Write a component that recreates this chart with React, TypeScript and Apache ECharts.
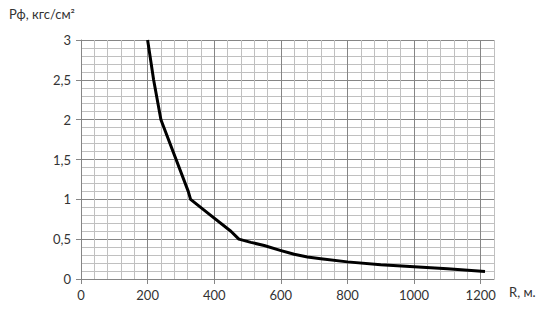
import React, { useEffect, useRef } from "react";
import * as echarts from "echarts";

const rValues = [200, 218, 240, 322, 329, 380, 450, 474, 510, 550, 598, 640, 680, 720, 800, 900, 1000, 1100, 1213];
const pValues = [3, 2.5, 2, 1.1, 1.0, 0.83, 0.6, 0.5, 0.46, 0.42, 0.36, 0.31, 0.277, 0.255, 0.215, 0.18, 0.155, 0.13, 0.095];
const xTickLabels = [0, 200, 400, 600, 800, 1000, 1200];
const yTickLabels = [0, 0.5, 1, 1.5, 2, 2.5, 3];
const yName = "Рф, кгс/см²";
const xName = "R, м.";

const FONT = "Lato";
const TEXT = "#333333";
const MAJOR = "#868686";
const MINOR = "#c0c0c0";

export default function App() {
  const ref = useRef<HTMLDivElement>(null);
  useEffect(() => {
    if (!ref.current) return;
    const chart = echarts.init(ref.current, undefined, { renderer: "svg" });
    chart.setOption({
      animation: false,
      backgroundColor: "#ffffff",
      textStyle: { fontFamily: FONT },
      grid: { left: 81, right: 53, top: 40, bottom: 34 },
      xAxis: [
        {
          type: "value",
          min: 0,
          max: 1240,
          interval: 40,
          position: "bottom",
          axisLine: { show: false },
          axisTick: { show: false },
          axisLabel: { show: false },
          splitLine: { show: true, lineStyle: { color: MINOR, width: 1 } },
        },
        {
          type: "value",
          min: 0,
          max: 1240,
          interval: 200,
          position: "bottom",
          axisLine: { show: true, onZero: false, lineStyle: { color: MAJOR, width: 1 } },
          axisTick: { show: true, length: 5, customValues: xTickLabels, lineStyle: { color: MAJOR } },
          axisLabel: {
            show: true,
            customValues: xTickLabels,
            color: TEXT,
            fontFamily: FONT,
            fontSize: 13,
            margin: 9,
            formatter: (v: number) => String(v),
          },
          splitLine: { show: true, lineStyle: { color: MAJOR, width: 1 } },
        },
      ],
      yAxis: {
        type: "value",
        min: 0,
        max: 3,
        interval: 0.5,
        axisLine: { show: true, lineStyle: { color: MAJOR, width: 1 } },
        axisTick: { show: true, length: 5, customValues: yTickLabels, lineStyle: { color: MAJOR } },
        axisLabel: {
          customValues: yTickLabels,
          color: TEXT,
          fontFamily: FONT,
          fontSize: 13,
          margin: 10,
          formatter: (v: number) => String(v).replace(".", ","),
        },
        splitLine: { show: true, lineStyle: { color: MAJOR, width: 1 } },
        minorTick: { show: false, splitNumber: 5 },
        minorSplitLine: { show: true, lineStyle: { color: MINOR, width: 1 } },
      },
      graphic: [
        {
          type: "text",
          left: 9,
          top: 7,
          style: { text: yName, fill: TEXT, font: `13px ${FONT}` },
        },
        {
          type: "text",
          left: 509,
          top: 285,
          style: { text: xName, fill: TEXT, font: `13px ${FONT}` },
        },
      ],
      series: [
        {
          type: "line",
          xAxisIndex: 0,
          data: rValues.map((r, i) => [r, pValues[i]]),
          symbol: "none",
          smooth: false,
          lineStyle: { color: "#000000", width: 3, join: "round" },
          z: 10,
        },
      ],
    });
    return () => chart.dispose();
  }, []);
  return <div ref={ref} style={{ position: "fixed", left: 0, top: 0, width: 547, height: 313 }} />;
}
